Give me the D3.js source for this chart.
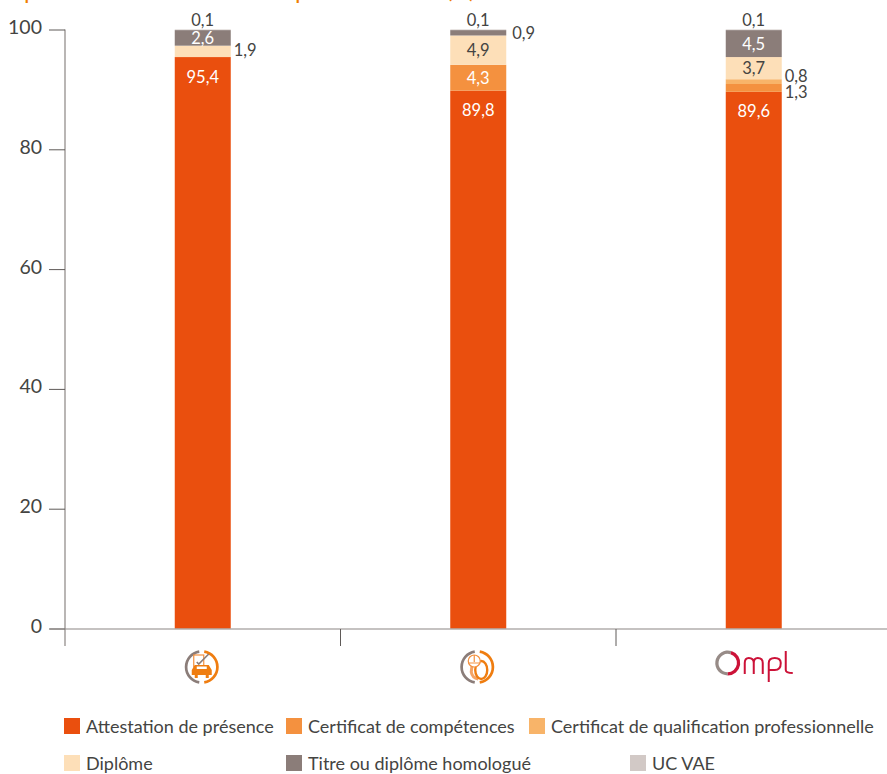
<!DOCTYPE html>
<html>
<head>
<meta charset="utf-8">
<script src="https://d3js.org/d3.v7.min.js"></script>
<style>
  html, body { margin: 0; padding: 0; background: #fff; overflow: hidden; }
  svg { display: block; }
  text { font-family: Lato, "Open Sans", sans-serif; fill: #444442; }
</style>
</head>
<body>
<div id="chartHolder"></div>
<script>
const categories = ["Transport", "Pneu", "OMPL"];
const seriesNames = ["Attestation de présence", "Certificat de compétences", "Certificat de qualification professionnelle", "Diplôme", "Titre ou diplôme homologué", "UC VAE"];
const seriesColors = ["#ea4f0e", "#f4913f", "#f8b469", "#fddfb8", "#8b7d79", "#d2c9c6"];
const attestation = [95.4, 89.8, 89.6];
const competences = [0, 4.3, 1.3];
const qualification = [0, 0, 0.8];
const diplome = [1.9, 4.9, 3.7];
const titre = [2.6, 0.9, 4.5];
const ucVae = [0.1, 0.1, 0.1];
const yTicks = [0, 20, 40, 60, 80, 100];

const width = 887;
const height = 774;
const allSeries = [attestation, competences, qualification, diplome, titre, ucVae];

const svg = d3.select("#chartHolder").append("svg")
  .attr("width", width)
  .attr("height", height);

const xScale = d3.scaleBand().domain(categories).range([65, 891.5]).paddingInner(0).paddingOuter(0);
const yScale = d3.scaleLinear().domain([0, 100]).range([628.5, 29.5]);
const barWidth = 56;

// what is left of the title, cut by the top edge of the picture
const titleBits = [["p", 24, -1], ["p", 295, -1], ["(", 446, -2.5], [")", 469, -2.5]];
svg.selectAll("text.titleBit")
  .data(titleBits)
  .enter()
  .append("text")
  .attr("class", "titleBit")
  .attr("x", d => d[1])
  .attr("y", d => d[2])
  .style("font-size", "24px")
  .style("fill", "#f07d00")
  .text(d => d[0]);

// stacks
const rows = categories.map((c, i) => {
  const row = { category: c };
  seriesNames.forEach((s, j) => { row[s] = allSeries[j][i]; });
  return row;
});
const stacked = d3.stack().keys(seriesNames)(rows);

svg.selectAll("g.layer")
  .data(stacked)
  .enter()
  .append("g")
  .attr("class", "layer")
  .attr("fill", (d, i) => seriesColors[i])
  .selectAll("rect")
  .data(d => d.filter(p => p[1] - p[0] > 0))
  .enter()
  .append("rect")
  .attr("x", d => xScale(d.data.category) + (xScale.bandwidth() - barWidth) / 2)
  .attr("y", d => yScale(d[1]))
  .attr("width", barWidth)
  .attr("height", d => yScale(d[0]) - yScale(d[1]));

// axes
const yAxis = d3.axisLeft(yScale).tickValues(yTicks).tickSize(16).tickFormat(d3.format("d"));
const yG = svg.append("g").attr("transform", "translate(65,0)").call(yAxis);
yG.select(".domain").attr("stroke", "#8b8583").attr("stroke-width", 1.2).attr("d", "M0,29.5V646");
yG.selectAll(".tick line").attr("stroke", "#5f5a58");
yG.selectAll(".tick text").attr("x", -23).attr("dy", "0.2em").style("font-size", "19.5px").style("font-family", "Lato").style("fill", "#444442");

const xAxis = d3.axisBottom(xScale).tickValues([]).tickSize(0);
const xG = svg.append("g").attr("transform", "translate(0,629)").call(xAxis);
xG.select(".domain").attr("stroke", "#8b8583").attr("stroke-width", 1.2).attr("d", "M50,0H887");
xG.selectAll("line.sep")
  .data(categories.slice(1))
  .enter()
  .append("line")
  .attr("class", "sep")
  .attr("x1", d => xScale(d)).attr("x2", d => xScale(d))
  .attr("y1", 0).attr("y2", 17)
  .attr("stroke", "#5f5a58");

// value labels: [category index, series index, inside?, dx, dy]
const labelSpots = [
  [0, 0, "in", 0, 0], [0, 3, "side", 1, -1], [0, 4, "in", 0, 0], [0, 5, "top", 0, 0],
  [1, 0, "in", 0, 0], [1, 1, "in", 0, 0], [1, 3, "in", 0, 0], [1, 4, "side", 4, 0], [1, 5, "top", 0, 0],
  [2, 0, "in", 0, 0], [2, 1, "side", 1, 4], [2, 2, "side", 1, -6], [2, 3, "in", 0, 0], [2, 4, "in", 0, 0], [2, 5, "top", 0, 0]
];
const comma = d3.format(".1f");
svg.selectAll("text.val")
  .data(labelSpots)
  .enter()
  .append("text")
  .attr("class", "val")
  .style("font-size", "16.5px")
  .attr("text-anchor", d => d[2] === "side" ? "start" : "middle")
  .style("fill", d => d[2] === "in" && d[1] !== 3 ? "#ffffff" : "#444442")
  .attr("x", d => {
    const cx = xScale(categories[d[0]]) + xScale.bandwidth() / 2;
    return (d[2] === "side" ? cx + barWidth / 2 + 2 : cx) + d[3];
  })
  .attr("y", d => {
    const p = stacked[d[1]][d[0]];
    if (d[2] === "top") return yScale(100) - 4;
    if (d[1] === 0 && d[2] === "in") return yScale(p[1]) + 25.5;
    return (yScale(p[0]) + yScale(p[1])) / 2 + 6 + d[4];
  })
  .text(d => comma(allSeries[d[1]][d[0]]).replace(".", ","));

// category icons
const arc = d3.arc();
const iconCentres = categories.map(c => xScale(c) + xScale.bandwidth() / 2 - 1);
const iconY = 667;
[0, 1].forEach(i => {
  const g = svg.append("g").attr("transform", `translate(${iconCentres[i]},${iconY})`);
  g.append("path").attr("fill", "#8b7d79")
    .attr("d", arc({ innerRadius: 14.3, outerRadius: 17, startAngle: Math.PI + 0.16, endAngle: 2 * Math.PI - 0.16 }));
  g.append("path").attr("fill", "#ef7d10")
    .attr("d", arc({ innerRadius: 14.3, outerRadius: 17, startAngle: 0.16, endAngle: Math.PI - 0.16 }));
});
// car and clipboard
const car = svg.append("g").attr("transform", `translate(${iconCentres[0]},${iconY})`);
car.append("rect").attr("x", -8).attr("y", -12).attr("width", 10).attr("height", 12).attr("fill", "none").attr("stroke", "#f4913f").attr("stroke-width", 1.2);
car.append("path").attr("d", "M-5,-5L-3,-3L7,-13").attr("fill", "none").attr("stroke", "#8b7d79").attr("stroke-width", 1.6);
car.append("path").attr("fill", "#ef7d10").attr("d", "M-10,8V3L-7,-2H7L10,3V8H7V11H4V8H-4V11H-7V8Z");
car.append("rect").attr("x", -5).attr("y", -0.5).attr("width", 10).attr("height", 2.5).attr("fill", "#fff");
// helmet and tyre
const tyre = svg.append("g").attr("transform", `translate(${iconCentres[1]},${iconY})`);
tyre.append("path").attr("d", "M-5,-3L-6,5Q-5,11 1,12").attr("fill", "none").attr("stroke", "#f4a465").attr("stroke-width", 3);
tyre.append("ellipse").attr("cx", 4).attr("cy", 3).attr("rx", 6).attr("ry", 9).attr("fill", "#fff").attr("stroke", "#ef7d10").attr("stroke-width", 2.4);
tyre.append("circle").attr("cx", -3).attr("cy", -6).attr("r", 6).attr("fill", "#fff").attr("stroke", "#f4913f").attr("stroke-width", 1.2);
tyre.append("path").attr("d", "M-3,-12V-5M-9,-4H3").attr("stroke", "#f4913f").attr("stroke-width", 1.2);
// Ompl logo
const ompl = svg.append("g").attr("transform", `translate(${iconCentres[2]},0)`);
ompl.append("path").attr("fill", "#978b87")
  .attr("d", arc({ innerRadius: 9.2, outerRadius: 12.5, startAngle: Math.PI, endAngle: 2 * Math.PI + 0.3 })).attr("transform", "translate(-25,663)");
ompl.append("path").attr("fill", "#cc1238")
  .attr("d", arc({ innerRadius: 9.2, outerRadius: 12.5, startAngle: 0.3, endAngle: Math.PI })).attr("transform", "translate(-25,663)");
ompl.append("path").attr("fill", "none").attr("stroke", "#cc1238").attr("stroke-width", 2)
  .attr("d", "M-8,674V663Q-8,658 -4,658Q1,658 1,663V674M1,663Q1,658 5,658Q10,658 10,663V674M16,682V663Q16,658 22,658Q28,658 28,663Q28,670 22,670H17M33,651V670Q33,673 40,673");

// legend
const legendSpots = [[64, 734], [286, 734], [529, 734], [64, 771], [286, 771], [630, 771]];
const legend = svg.selectAll("g.legend")
  .data(seriesNames)
  .enter()
  .append("g")
  .attr("class", "legend")
  .attr("transform", (d, i) => `translate(${legendSpots[i][0]},${legendSpots[i][1]})`);
legend.append("rect")
  .attr("y", -16).attr("width", 16).attr("height", 16)
  .attr("fill", (d, i) => seriesColors[i]);
legend.append("text")
  .attr("x", 22).attr("y", -1)
  .style("font-size", "18px")
  .text(d => d);
</script>
</body>
</html>
